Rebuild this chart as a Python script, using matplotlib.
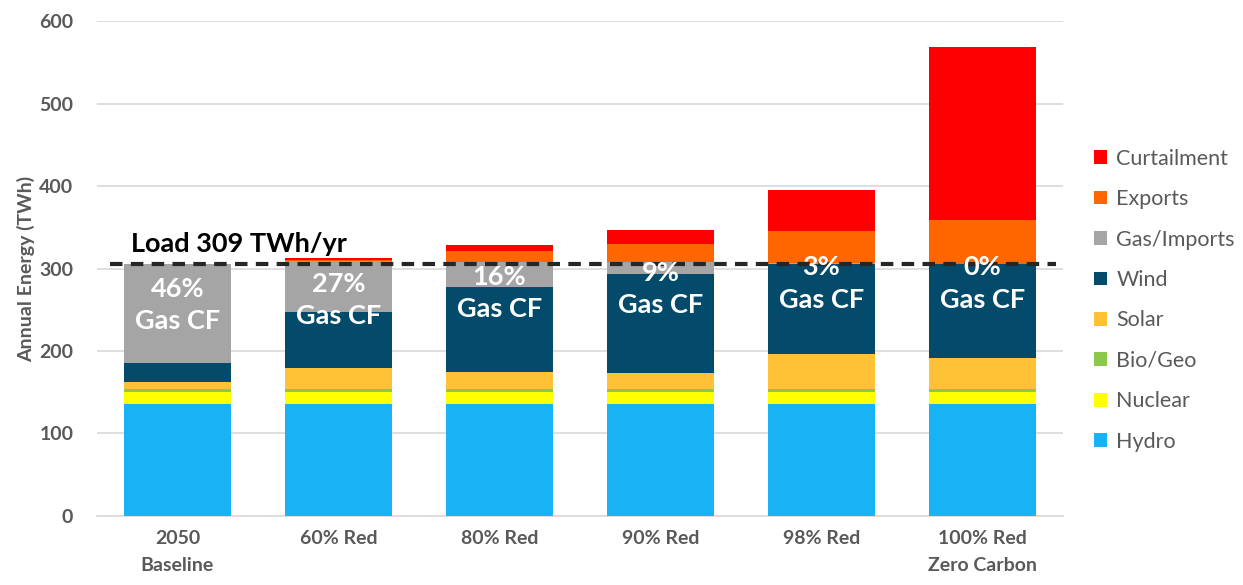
import matplotlib
matplotlib.use("Agg")
import matplotlib.pyplot as plt
import numpy as np

plt.rcParams["font.family"] = ["Lato", "DejaVu Sans"]

categories = ["2050\nBaseline", "60% Red", "80% Red", "90% Red", "98% Red", "100% Red\nZero Carbon"]
hydro = [136, 136, 136, 136, 136, 136]
nuclear = [14, 14, 14, 14, 14, 14]
bio_geo = [4, 4, 4, 4, 4, 4]
solar = [9, 25, 21, 19, 42, 37]
wind = [23, 68, 102, 120, 110, 115]
gas_imports = [120, 62, 31, 15, 1, 0]
exports = [0, 1.5, 13, 22, 38, 53]
curtailment = [0, 2.5, 7, 17, 50, 209]
gas_cf = ["46%", "27%", "16%", "9%", "3%", "0%"]
load_line = 306
load_label = "Load 309 TWh/yr"

series = [
    ("Hydro", hydro, "#17B3F5"),
    ("Nuclear", nuclear, "#FFFF00"),
    ("Bio/Geo", bio_geo, "#8CC84B"),
    ("Solar", solar, "#FFC236"),
    ("Wind", wind, "#044B6B"),
    ("Gas/Imports", gas_imports, "#A5A5A5"),
    ("Exports", exports, "#FF6600"),
    ("Curtailment", curtailment, "#FF0000"),
]

grey = "#595959"
fig = plt.figure(figsize=(12.43, 5.85), dpi=100)
ax = fig.add_axes([0.078, 0.118, 0.777, 0.846])

x = np.arange(len(categories))
bottom = np.zeros(len(categories))
handles = []
for name, values, color in series:
    h = ax.bar(x, values, 0.667, bottom=bottom, color=color, label=name, zorder=3)
    handles.append(h)
    bottom += np.asarray(values, dtype=float)

ax.set_xlim(-0.5, len(categories) - 0.5)
ax.set_ylim(0, 600)
ax.set_yticks(range(0, 601, 100))
ax.yaxis.grid(True, color="#D9D9D9", lw=1.2, zorder=0)
ax.set_axisbelow(True)
for side in ("top", "right", "left"):
    ax.spines[side].set_visible(False)
ax.spines["bottom"].set_color("#D9D9D9")
ax.spines["bottom"].set_linewidth(1.2)
ax.tick_params(length=0, labelsize=14, labelcolor=grey)
ax.tick_params(axis="y", pad=17)
ax.tick_params(axis="x", pad=10)
ax.set_xticks(x)
ax.set_xticklabels(categories, fontweight="bold", linespacing=1.75)
for lab in ax.get_yticklabels():
    lab.set_fontweight("bold")
ax.set_ylabel("Annual Energy (TWh)", fontsize=14, fontweight="bold", color=grey, labelpad=3)

# load line and label
ax.plot([-0.42, 5.46], [load_line, load_line], ls=(0, (3, 2)), lw=3, color="#262626", zorder=5)
ax.text(-0.29, load_line + 9, load_label, fontsize=19.5, fontweight="bold", color="black",
        ha="left", va="bottom", zorder=6)

# gas capacity factor labels inside bars
label_y = [256, 262, 270, 275, 282, 282]
for xi, pct, ly in zip(x, gas_cf, label_y):
    ax.text(xi, ly, f"{pct}\nGas CF", ha="center", va="center", color="white",
            fontsize=19.5, fontweight="bold", linespacing=1.42, zorder=6)

leg = ax.legend(handles[::-1], [s[0] for s in series][::-1], loc="center left",
                bbox_to_anchor=(1.012, 0.436), frameon=False, fontsize=15.5,
                handlelength=0.6, handleheight=0.6, handletextpad=0.45, labelspacing=0.95)
for t in leg.get_texts():
    t.set_color(grey)

fig.savefig("out.png", dpi=100)
